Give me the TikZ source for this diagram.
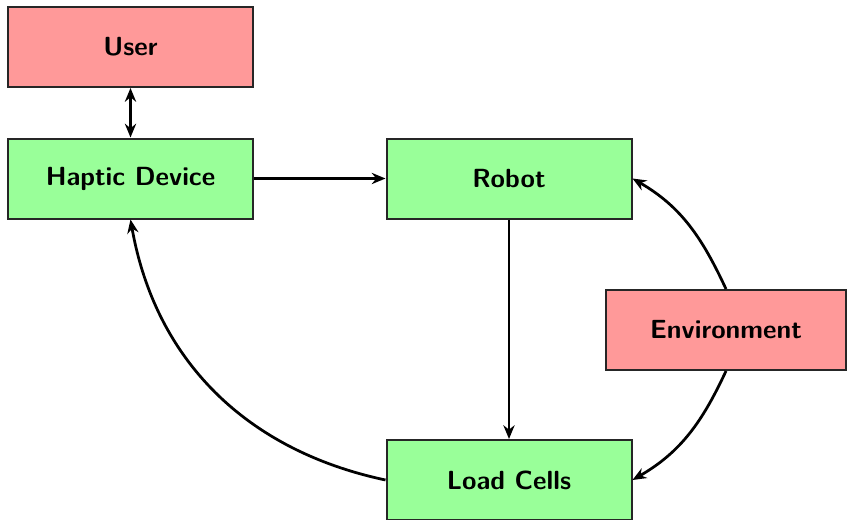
\documentclass[tikz,border=0pt]{standalone}
\usetikzlibrary{arrows.meta}
\definecolor{boxred}{HTML}{FF9999}
\definecolor{boxgreen}{HTML}{99FF99}
\begin{document}
\begin{tikzpicture}[x=0.4pt,y=-0.4pt,
  blk/.style={draw=black!85, line width=0.8pt, minimum width=98pt, minimum height=32pt, inner sep=0pt, font=\fontsize{10.5}{12}\sffamily\bfseries},
  redblk/.style={blk, fill=boxred},
  greenblk/.style={blk, fill=boxgreen},
  tip/.style={},
  conn/.style={line width=1.1pt, -{Stealth[length=5.5pt,width=4.5pt]}}]
\useasboundingbox (0,0) rectangle (847,520);
\node[redblk] (user) at (130.5,47) {User};
\node[greenblk] (haptic) at (130.5,178.5) {Haptic Device};
\node[greenblk] (robot) at (509,178.5) {Robot};
\node[redblk, minimum width=96pt] (env) at (726,330) {Environment};
\node[greenblk] (load) at (509,480) {Load Cells};
\draw[conn, {Stealth[length=5.5pt,width=4.5pt]}-{Stealth[length=5.5pt,width=4.5pt]}] (user) -- (haptic);
\draw[conn] (haptic) -- (robot);
\draw[conn] (robot) -- (load);
\draw[conn] (env.north) to[out=115,in=-30] (robot.east);
\draw[conn] (env.south) to[out=-115,in=30] (load.east);
\draw[conn] (load.west) to[out=168,in=-80] (haptic.south);
\end{tikzpicture}
\end{document}
